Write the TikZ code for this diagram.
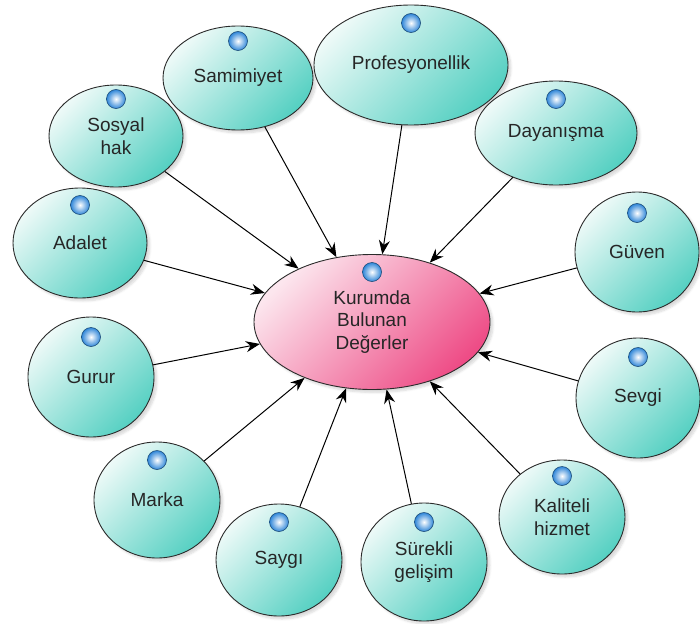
\documentclass[tikz,border=0pt]{standalone}
\usepackage{fontspec}
\setmainfont{Liberation Sans}
\usetikzlibrary{shapes.geometric,arrows.meta,shadows.blur}
\definecolor{valuelight}{HTML}{EEFAF8}
\definecolor{valuedark}{HTML}{55D0C2}
\definecolor{corelight}{HTML}{FCE6EE}
\definecolor{coredark}{HTML}{EE4C86}
\definecolor{ballrim}{HTML}{2F86D8}
\definecolor{rimline}{HTML}{2B2B2B}
\tikzset{
  value/.style={ellipse, draw=rimline, line width=0.9pt, inner sep=0pt,
                top color=valuelight, bottom color=valuedark, shading angle=45,
                blur shadow={shadow xshift=3pt, shadow yshift=-3pt,
                             shadow opacity=15, shadow blur steps=6},
                font=\fontsize{19}{22.5}\selectfont, align=center, text=black!85},
  core/.style={value, top color=corelight, bottom color=coredark, shading angle=45},
  ball/.style={circle, minimum size=19pt, inner sep=0pt, inner color=white,
               outer color=ballrim, draw=ballrim!55!black, line width=0.6pt},
  link/.style={-{Stealth[length=14pt,width=11pt]}, line width=1pt, black},
}
\begin{document}
\begin{tikzpicture}[x=1pt,y=-1pt]
    \useasboundingbox (0,0) rectangle (700,623);
    % centre
    \node[core, minimum width=236pt, minimum height=135pt] (kurum) at (372,322) {Kurumda\\Bulunan\\Değerler};
    % values round it
    \node[value, minimum width=150pt, minimum height=104pt] (samimiyet) at (238,78) {Samimiyet};
    \node[value, minimum width=194pt, minimum height=120pt] (profesyonellik) at (411,65) {Profesyonellik};
    \node[value, minimum width=162pt, minimum height=104pt] (dayanisma) at (556,133) {Dayanışma};
    \node[value, minimum width=124pt, minimum height=120pt] (guven) at (637,252) {Güven};
    \node[value, minimum width=124pt, minimum height=120pt] (sevgi) at (638,398) {Sevgi};
    \node[value, minimum width=126pt, minimum height=114pt] (kaliteli) at (562,517) {Kaliteli\\hizmet};
    \node[value, minimum width=126pt, minimum height=118pt] (surekli) at (424,562) {Sürekli\\gelişim};
    \node[value, minimum width=126pt, minimum height=112pt] (saygi) at (279,560) {Saygı};
    \node[value, minimum width=126pt, minimum height=116pt] (marka) at (157,500) {Marka};
    \node[value, minimum width=126pt, minimum height=120pt] (gurur) at (91,377) {Gurur};
    \node[value, minimum width=134pt, minimum height=110pt] (adalet) at (80,243) {Adalet};
    \node[value, minimum width=134pt, minimum height=102pt] (sosyal) at (116,136) {Sosyal\\hak};
    % connectors
    \foreach \n in {samimiyet,profesyonellik,dayanisma,guven,sevgi,kaliteli,surekli,saygi,marka,gurur,adalet,sosyal}
      \draw[link] (\n) -- (kurum);
    % balls
    \foreach \n/\dy in {kurum/50,samimiyet/37,profesyonellik/42,dayanisma/34,guven/39,sevgi/41,kaliteli/41,surekli/40,saygi/38,marka/40,gurur/40,adalet/38,sosyal/37}
      \node[ball] at ([yshift=\dy pt]\n.center) {};
\end{tikzpicture}
\end{document}
